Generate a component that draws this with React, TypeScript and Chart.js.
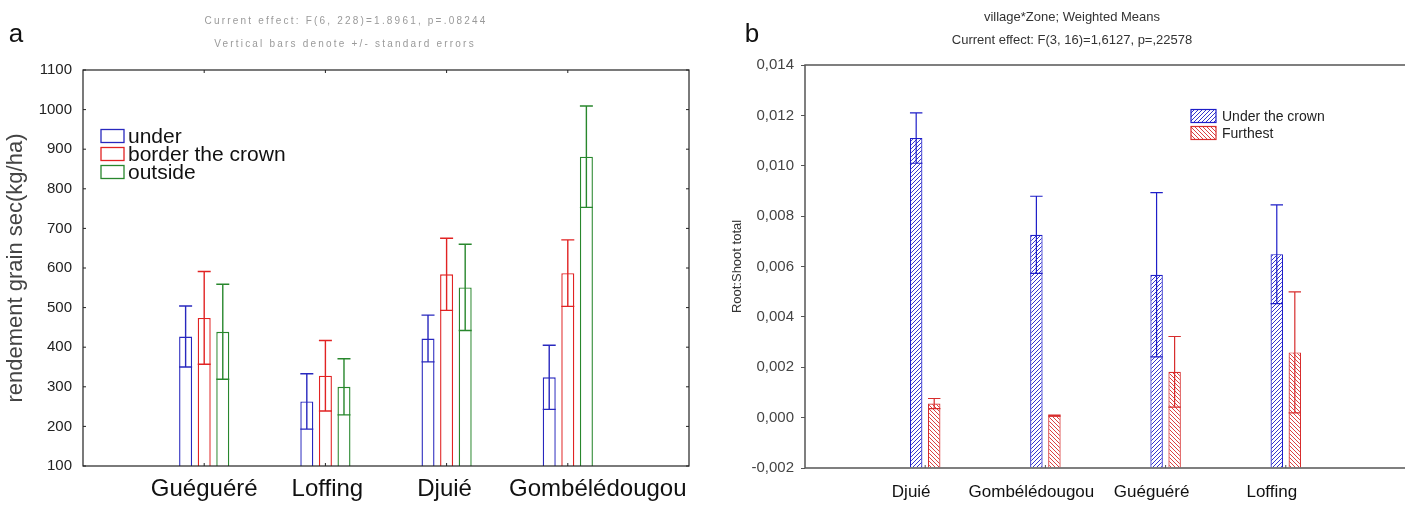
import React, { useEffect, useRef } from 'react';
import { Chart, registerables } from 'chart.js';
Chart.register(...registerables);

// ---------- Panel a data ----------
const aCategories = ['Guéguéré', 'Loffing', 'Djuié', 'Gombélédougou'];
const aSeriesNames = ['under', 'border the crown', 'outside'];
const aUnder = [427, 263, 422, 324];
const aUnderSE = [77, 70, 59, 81];
const aBorder = [474, 328, 584, 587];
const aBorderSE = [117, 89, 91, 84];
const aOutside = [439, 300, 551, 881];
const aOutsideSE = [120, 71, 109, 128];
const aYMin = 100;
const aYMax = 1100;
const aYStep = 100;
const aTitle1 = 'Current effect: F(6, 228)=1.8961, p=.08244';
const aTitle2 = 'Vertical bars denote +/- standard errors';
const aYTitle = 'rendement grain sec(kg/ha)';

// ---------- Panel b data ----------
const bCategories = ['Djuié', 'Gombélédougou', 'Guéguéré', 'Loffing'];
const bSeriesNames = ['Under the crown', 'Furthest'];
const bUnder = [0.0111, 0.00726, 0.00567, 0.00649];
const bUnderSE = [0.001, 0.00153, 0.00326, 0.00196];
const bFurthest = [0.00056, 0.00008, 0.00182, 0.00259];
const bFurthestSE = [0.0002, 0.00002, 0.0014, 0.0024];
const bYMin = -0.002;
const bYMax = 0.014;
const bYStep = 0.002;
const bTitle1 = 'village*Zone; Weighted Means';
const bTitle2 = 'Current effect: F(3, 16)=1,6127, p=,22578';
const bYTitle = 'Root:Shoot total';

// label horizontal nudges (layout only, pixels) for panel a category labels
const aLabelShift = [0, 2, -2, 30];

const FONT = 'Arial, "Liberation Sans", sans-serif';
const A_BLUE = 'rgb(40,40,190)';
const A_RED = 'rgb(225,35,35)';
const A_GREEN = 'rgb(40,135,45)';
const B_BLUE = 'rgb(30,30,200)';
const B_RED = 'rgb(215,45,45)';

const pad = (arr: (number | null)[]) => [null, ...arr, null];

function makeHatch(color: string, dir: number): CanvasPattern | string {
  const size = 4;
  const c = document.createElement('canvas');
  c.width = size;
  c.height = size;
  const g = c.getContext('2d');
  if (!g) return '#fff';
  g.fillStyle = '#fff';
  g.fillRect(0, 0, size, size);
  g.strokeStyle = color;
  g.lineWidth = 0.9;
  g.beginPath();
  if (dir > 0) {
    g.moveTo(-1, size + 1);
    g.lineTo(size + 1, -1);
    g.moveTo(-1, 1);
    g.lineTo(1, -1);
    g.moveTo(size - 1, size + 1);
    g.lineTo(size + 1, size - 1);
  } else {
    g.moveTo(-1, -1);
    g.lineTo(size + 1, size + 1);
    g.moveTo(size - 1, -1);
    g.lineTo(size + 1, 1);
    g.moveTo(-1, size - 1);
    g.lineTo(1, size + 1);
  }
  g.stroke();
  const p = g.createPattern(c, 'repeat');
  return p || '#fff';
}

const errorBarPlugin = {
  id: 'errorBars',
  afterDatasetsDraw(chart: any, _a: any, opts: any) {
    const ctx = chart.ctx;
    const ys = chart.scales.y;
    chart.data.datasets.forEach((ds: any, di: number) => {
      const errs = ds.errors;
      if (!errs) return;
      const meta = chart.getDatasetMeta(di);
      ctx.save();
      ctx.strokeStyle = ds.borderColor;
      ctx.lineWidth = opts.lineWidth || 1.2;
      meta.data.forEach((bar: any, i: number) => {
        const v = ds.data[i];
        const e = errs[i];
        if (v == null || e == null) return;
        const { x, width } = bar.getProps(['x', 'width'], true);
        const yTop = ys.getPixelForValue(v + e);
        const yLow = ys.getPixelForValue(v - e);
        const hw = width / 2;
        ctx.beginPath();
        ctx.moveTo(x, yTop);
        ctx.lineTo(x, yLow);
        ctx.moveTo(x - hw, yTop);
        ctx.lineTo(x + hw, yTop);
        ctx.moveTo(x - hw, yLow);
        ctx.lineTo(x + hw, yLow);
        ctx.stroke();
      });
      ctx.restore();
    });
  },
};

const framePlugin = {
  id: 'frame',
  afterDatasetsDraw(chart: any, _a: any, o: any) {
    const { ctx, chartArea: a, scales } = chart;
    ctx.save();
    ctx.strokeStyle = o.color;
    ctx.lineWidth = o.width;
    ctx.strokeRect(a.left, a.top, a.right - a.left, a.bottom - a.top);
    ctx.lineWidth = 1;
    ctx.beginPath();
    if (o.yInside) {
      scales.y.ticks.forEach((t: any) => {
        const py = scales.y.getPixelForValue(t.value);
        ctx.moveTo(a.left, py);
        ctx.lineTo(a.left + o.tick, py);
        if (o.mirror) {
          ctx.moveTo(a.right, py);
          ctx.lineTo(a.right - o.tick, py);
        }
      });
    }
    chart.data.labels.forEach((l: string, i: number) => {
      if (!l) return;
      const px = scales.x.getPixelForValue(i);
      ctx.moveTo(px, a.bottom);
      ctx.lineTo(px, a.bottom - o.tick);
      if (o.mirror) {
        ctx.moveTo(px, a.top);
        ctx.lineTo(px, a.top + o.tick);
      }
    });
    ctx.stroke();
    ctx.restore();
  },
};

// draws the category names under the x scale, positioned from the scale's own pixels
const catLabelPlugin = {
  id: 'catLabels',
  afterDraw(chart: any, _a: any, o: any) {
    if (!o || !o.enabled) return;
    const ctx = chart.ctx;
    const xs = chart.scales.x;
    ctx.save();
    ctx.font = o.font;
    ctx.fillStyle = o.color;
    ctx.textAlign = 'center';
    ctx.textBaseline = 'top';
    let k = 0;
    chart.data.labels.forEach((l: string, i: number) => {
      if (!l) return;
      const px = xs.getPixelForValue(i) + (o.shift ? o.shift[k] || 0 : 0);
      ctx.fillText(l, px, chart.chartArea.bottom + o.padding);
      k++;
    });
    ctx.restore();
  },
};

const textPlugin = {
  id: 'texts',
  afterDraw(chart: any, _a: any, o: any) {
    const ctx = chart.ctx;
    (o.items || []).forEach((it: any) => {
      ctx.save();
      ctx.font = it.font;
      ctx.fillStyle = it.color;
      ctx.textAlign = it.align || 'center';
      ctx.textBaseline = 'middle';
      if ('letterSpacing' in ctx) (ctx as any).letterSpacing = it.spacing || '0px';
      ctx.fillText(it.text, it.x, it.y);
      ctx.restore();
    });
  },
};

const boxLegendPlugin = {
  id: 'boxLegend',
  afterDraw(chart: any, _a: any, o: any) {
    const ctx = chart.ctx;
    chart.data.datasets.forEach((ds: any, i: number) => {
      const cy = o.y + i * o.rowH;
      ctx.save();
      ctx.fillStyle = ds.backgroundColor;
      ctx.fillRect(o.x, cy - o.boxH / 2, o.boxW, o.boxH);
      ctx.strokeStyle = ds.borderColor;
      ctx.lineWidth = o.lineWidth;
      ctx.strokeRect(o.x, cy - o.boxH / 2, o.boxW, o.boxH);
      ctx.fillStyle = o.color;
      ctx.font = o.font;
      ctx.textAlign = 'left';
      ctx.textBaseline = 'middle';
      ctx.fillText(ds.label, o.x + o.boxW + o.gap, cy + 1);
      ctx.restore();
    });
  },
};

function ChartA() {
  const ref = useRef<HTMLCanvasElement | null>(null);
  useEffect(() => {
    if (!ref.current) return;
    const chart = new Chart(ref.current, {
      type: 'bar',
      data: {
        labels: ['', ...aCategories, ''],
        datasets: [
          { label: aSeriesNames[0], data: pad(aUnder), errors: pad(aUnderSE), borderColor: A_BLUE, backgroundColor: '#fff', borderWidth: 1.4 } as any,
          { label: aSeriesNames[1], data: pad(aBorder), errors: pad(aBorderSE), borderColor: A_RED, backgroundColor: '#fff', borderWidth: 1.4 } as any,
          { label: aSeriesNames[2], data: pad(aOutside), errors: pad(aOutsideSE), borderColor: A_GREEN, backgroundColor: '#fff', borderWidth: 1.4 } as any,
        ],
      },
      options: {
        responsive: false,
        animation: false,
        events: [],
        layout: { padding: { left: 0, right: 11, top: 70, bottom: 0 } },
        datasets: { bar: { categoryPercentage: 0.46, barPercentage: 0.7 } },
        scales: {
          x: {
            offset: false,
            grid: { display: false, drawTicks: false },
            border: { display: false },
            ticks: { display: false },
            afterFit: (s: any) => { s.height = 42; },
          },
          y: {
            min: aYMin,
            max: aYMax,
            grid: { display: false, drawTicks: false },
            border: { display: false },
            ticks: {
              stepSize: aYStep,
              padding: 11,
              color: '#222',
              font: { family: FONT, size: 15 },
              callback: (v: any) => String(Math.round(Number(v))),
            },
            title: { display: true, text: aYTitle, color: '#444', font: { family: FONT, size: 22 }, padding: { top: 3, bottom: 0 } },
            afterFit: (s: any) => { s.width = 83; },
          },
        },
        plugins: {
          legend: { display: false },
          tooltip: { enabled: false },
          errorBars: { lineWidth: 1.4 },
          frame: { color: '#222', width: 1.2, yInside: true, mirror: true, tick: 3 },
          catLabels: { enabled: true, shift: aLabelShift, padding: 11, font: `24px ${FONT}`, color: '#111' },
          boxLegend: { x: 101, y: 136, rowH: 18, boxW: 23, boxH: 13, gap: 4, lineWidth: 1.3, font: `21px ${FONT}`, color: '#111' },
          texts: {
            items: [
              { text: 'a', x: 16, y: 35, font: `26px ${FONT}`, color: '#111' },
              { text: aTitle1, x: 346, y: 21, font: `10px ${FONT}`, color: '#9a9a9a', spacing: '2.2px' },
              { text: aTitle2, x: 345, y: 44, font: `10px ${FONT}`, color: '#9a9a9a', spacing: '2.2px' },
            ],
          },
        } as any,
      },
      plugins: [errorBarPlugin, framePlugin, catLabelPlugin, boxLegendPlugin, textPlugin],
    } as any);
    return () => chart.destroy();
  }, []);
  return <canvas ref={ref} width={700} height={508} style={{ position: 'absolute', left: 0, top: 0, display: 'block' }} />;
}

function ChartB() {
  const ref = useRef<HTMLCanvasElement | null>(null);
  useEffect(() => {
    if (!ref.current) return;
    const blueHatch = makeHatch(B_BLUE, 1);
    const redHatch = makeHatch(B_RED, -1);
    const chart = new Chart(ref.current, {
      type: 'bar',
      data: {
        labels: ['', ...bCategories, ''],
        datasets: [
          { label: bSeriesNames[0], data: pad(bUnder), errors: pad(bUnderSE), borderColor: B_BLUE, backgroundColor: blueHatch, borderWidth: 1.2, base: bYMin } as any,
          { label: bSeriesNames[1], data: pad(bFurthest), errors: pad(bFurthestSE), borderColor: B_RED, backgroundColor: redHatch, borderWidth: 1.2, base: bYMin } as any,
        ],
      },
      options: {
        responsive: false,
        animation: false,
        events: [],
        layout: { padding: { left: 0, right: 7, top: 65, bottom: 0 } },
        datasets: { bar: { categoryPercentage: 0.3, barPercentage: 0.69 } },
        scales: {
          x: {
            offset: false,
            grid: { display: false, drawTicks: false },
            border: { display: false },
            ticks: { autoSkip: false, maxRotation: 0, minRotation: 0, padding: 14, labelOffset: -14, color: '#111', font: { family: FONT, size: 17 } },
            afterFit: (s: any) => { s.height = 40; },
          },
          y: {
            min: bYMin,
            max: bYMax,
            grid: { display: true, drawOnChartArea: false, drawTicks: true, tickLength: 4, color: '#555' },
            border: { display: false },
            ticks: {
              stepSize: bYStep,
              padding: 7,
              color: '#444',
              font: { family: FONT, size: 15 },
              callback: (v: any) => {
                const n = Math.abs(Number(v)) < 1e-9 ? 0 : Number(v);
                return n.toFixed(3).replace('.', ',');
              },
            },
            title: { display: true, text: bYTitle, color: '#333', font: { family: FONT, size: 13 }, padding: { top: 30, bottom: 0 } },
            afterFit: (s: any) => { s.width = 105; },
          },
        },
        plugins: {
          legend: { display: false },
          tooltip: { enabled: false },
          errorBars: { lineWidth: 1.2 },
          frame: { color: '#555', width: 1.5, yInside: false, mirror: false, tick: 3 },
          boxLegend: { x: 491, y: 116, rowH: 17, boxW: 25, boxH: 13, gap: 6, lineWidth: 1.2, font: `14px ${FONT}`, color: '#222' },
          texts: {
            items: [
              { text: 'b', x: 52, y: 35, font: `26px ${FONT}`, color: '#111' },
              { text: bTitle1, x: 372, y: 17, font: `13px ${FONT}`, color: '#333' },
              { text: bTitle2, x: 372, y: 40, font: `13px ${FONT}`, color: '#333' },
            ],
          },
        } as any,
      },
      plugins: [errorBarPlugin, framePlugin, boxLegendPlugin, textPlugin],
    } as any);
    return () => chart.destroy();
  }, []);
  return <canvas ref={ref} width={720} height={508} style={{ position: 'absolute', left: 700, top: 0, display: 'block' }} />;
}

export default function App() {
  return (
    <div style={{ position: 'absolute', left: 0, top: 0, width: 1405, height: 508, overflow: 'hidden', background: '#fff' }}>
      <ChartA />
      <ChartB />
    </div>
  );
}
